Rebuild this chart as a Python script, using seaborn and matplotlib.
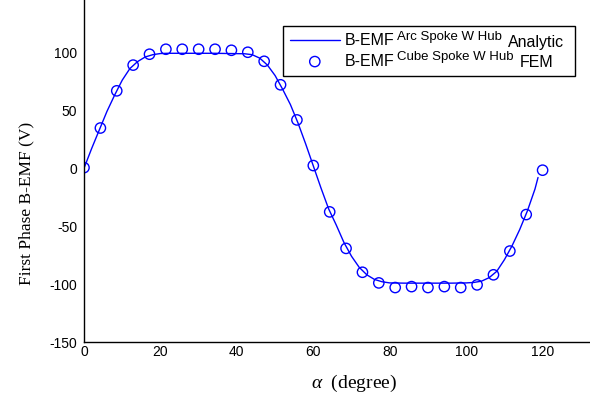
import numpy as np
import pandas as pd
import matplotlib
matplotlib.use("Agg")
import matplotlib.pyplot as plt
import seaborn as sns

# FEM samples (circles)
fem_x = [0, 4.29, 8.57, 12.86, 17.14, 21.43, 25.71, 30, 34.29, 38.57, 42.86,
         47.14, 51.43, 55.71, 60, 64.29, 68.57, 72.86, 77.14, 81.43, 85.71,
         90, 94.29, 98.57, 102.86, 107.14, 111.43, 115.71, 120]
fem_y = [0.5, 34.7, 66.8, 89, 98.4, 102.7, 102.7, 102.7, 102.7, 101.8, 100.1,
         92.3, 72, 41.7, 2.3, -37.7, -69.2, -89.8, -99, -103, -102.2,
         -103, -102.2, -103, -100.7, -92, -71.5, -40, -1.7]

# Analytic curve (line)
ana_x = [0, 2, 4, 6, 8, 10, 12, 14, 16, 18, 20, 22, 26, 30, 34, 38, 42, 44, 46,
         48, 50, 52, 54, 56, 58, 60, 62, 64, 66, 68, 70, 72, 74, 76, 78, 80, 84,
         88, 92, 96, 100, 102, 104, 106, 108, 110, 112, 114, 116, 118, 118.8]
ana_y = [0, 17, 33, 49, 63, 76, 86, 92, 96, 98, 99, 99.2, 99.2, 99.2, 99.2, 99, 98.8,
         98, 95, 89, 80, 68, 55, 39, 21, 2, -17, -35, -49, -64, -76, -85.5, -92, -96,
         -98, -99, -99.2, -99.2, -99.2, -99.2, -99, -98.6, -97.5, -94.5, -89, -79,
         -67, -53, -37, -18, -8]

x_ticks = [0, 20, 40, 60, 80, 100, 120]
y_ticks = [-150, -100, -50, 0, 50, 100]

legend_main = ['B-EMF', 'B-EMF']
legend_sup = ['Arc Spoke W Hub', 'Cube Spoke W Hub']
legend_tail = ['Analytic', 'FEM']

sns.set_style("white")
plt.rcParams['font.family'] = ['Liberation Sans', 'DejaVu Sans']
plt.rcParams['text.color'] = 'black'
plt.rcParams['mathtext.fontset'] = 'custom'
plt.rcParams['mathtext.rm'] = 'Liberation Sans'
plt.rcParams['mathtext.it'] = 'Liberation Serif:italic'

fig = plt.figure(figsize=(5.9, 4.05), dpi=100)
ax = fig.add_axes([84/590, 1 - 342/405, 1 - 84/590, 342/405])

df_line = pd.DataFrame({'x': ana_x, 'y': ana_y})
df_fem = pd.DataFrame({'x': fem_x, 'y': fem_y})

sns.lineplot(data=df_line, x='x', y='y', ax=ax, color=(0, 0, 1), linewidth=1.0,
             label=legend_main[0], sort=False)
sns.scatterplot(data=df_fem, x='x', y='y', ax=ax, marker='o', s=55,
                facecolors='none', edgecolors=(0, 0, 1), linewidth=1.0,
                label=legend_main[1])

ax.set_xlim(0, 132.4)
ax.set_ylim(-150, 145.2)
ax.set_xticks(x_ticks)
ax.set_yticks(y_ticks)
ax.set_xticklabels([str(v) for v in x_ticks])
ax.set_yticklabels([str(v) for v in y_ticks])
ax.tick_params(direction='in', length=3, width=0.8, labelsize=10, colors='black',
               pad=5)
ax.tick_params(axis='x', pad=2)
for s in ['top', 'right']:
    ax.spines[s].set_visible(False)
for s in ['left', 'bottom']:
    ax.spines[s].set_color('black')
    ax.spines[s].set_linewidth(1.0)

ax.set_xlabel('')
ax.set_ylabel('')
fig.text(26/590, 1 - 203/405, 'First Phase B-EMF (V)', rotation=90,
         ha='center', va='center', family='Liberation Serif', fontsize=12.5)
fig.text(354/590, 1 - 383/405, r'$\it{\alpha}$  (degree)',
         ha='center', va='center', family='Liberation Serif', fontsize=14)

leg = ax.legend(loc='upper left', bbox_to_anchor=(0.393, 0.778, 0.577, 0.146),
                mode='expand', frameon=True, fancybox=False, fontsize=11.5,
                borderaxespad=0, handlelength=3.1, handletextpad=0.35,
                borderpad=0.45, labelspacing=0.35, framealpha=1.0)
leg.get_frame().set_edgecolor('black')
leg.get_frame().set_linewidth(1.0)
for t in leg.get_texts():
    t.set_color('black')

fig.canvas.draw()
for t, sup, tail in zip(leg.get_texts(), legend_sup, legend_tail):
    a1 = ax.annotate(sup, xy=(1, 0), xycoords=t, xytext=(1.2, 6.2),
                     textcoords='offset points', fontsize=9.5, color='black',
                     ha='left', va='baseline', annotation_clip=False, zorder=10)
    ax.annotate(tail, xy=(1, 0), xycoords=a1, xytext=(5, -3.0),
                textcoords='offset points', fontsize=11.5, color='black',
                ha='left', va='baseline', annotation_clip=False, zorder=10)

fig.savefig('out.png', dpi=100)
